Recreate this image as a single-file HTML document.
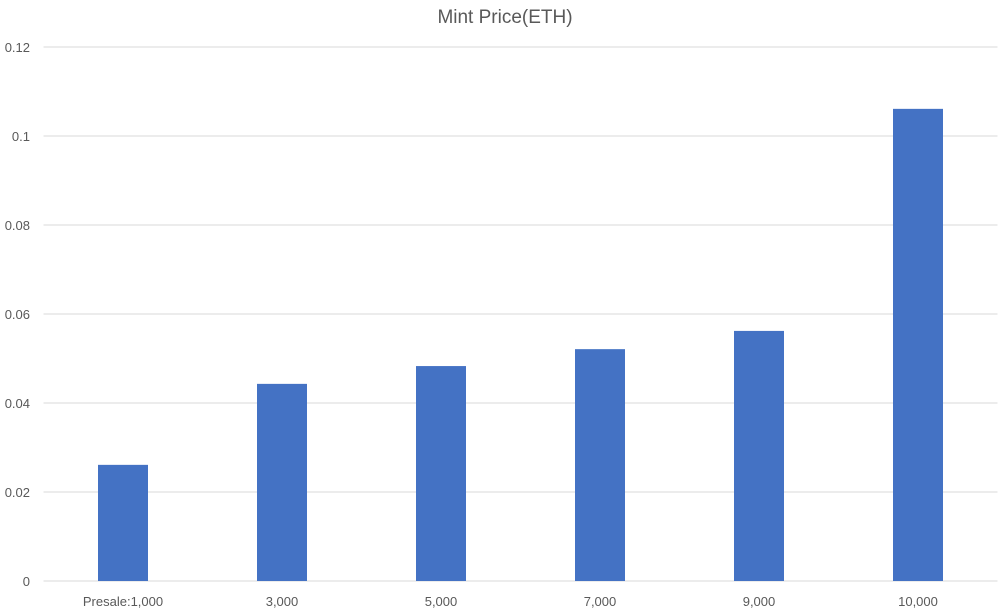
<!DOCTYPE html>
<html><head><meta charset="utf-8"><style>
body{margin:0;background:#fff;}
svg{font-family:"Liberation Sans",sans-serif;}
</style></head><body>
<svg width="1003" height="609" xmlns="http://www.w3.org/2000/svg">
<rect width="1003" height="609" fill="#fff"/>
<text x="505" y="23" text-anchor="middle" font-size="19" fill="#595959">Mint Price(ETH)</text>
<g id="grid"></g><g id="bars"></g><g id="labels"></g>
</svg>
<script>
const categories=["Presale:1,000","3,000","5,000","7,000","9,000","10,000"];
const values=[0.0261,0.0443,0.0483,0.0521,0.0562,0.1061];
const yTicks=[0,0.02,0.04,0.06,0.08,0.1,0.12];
const yTickLabels=["0","0.02","0.04","0.06","0.08","0.1","0.12"];
const ns="http://www.w3.org/2000/svg";
const left=43.5,right=997.5,y0=581,yTop=47,yMax=0.12;
const y=v=>y0-(v/yMax)*(y0-yTop);
const bw=(right-left)/categories.length;
const x=i=>left+bw*(i+0.5);
const grid=document.getElementById('grid'),bars=document.getElementById('bars'),labels=document.getElementById('labels');
function mk(t,a,p){const e=document.createElementNS(ns,t);for(const k in a)e.setAttribute(k,a[k]);p.appendChild(e);return e;}
yTicks.forEach((v,i)=>{
 const l=mk('line',{x1:left,x2:right,y1:y(v),y2:y(v),stroke:'#d9d9d9','stroke-width':1},grid);
 
 
 const t=mk('text',{x:30,y:y(v)+5,'text-anchor':'end','font-size':13,fill:'#595959'},labels);
 t.textContent=yTickLabels[i];
 
 
});
categories.forEach((c,i)=>{
 const r=mk('rect',{x:x(i)-25,y:y(values[i]),width:50,height:y0-y(values[i]),fill:'#4472C4'},bars);
 
 
 const t=mk('text',{x:x(i),y:606,'text-anchor':'middle','font-size':13,fill:'#595959'},labels);
 t.textContent=c;
 
 
});
</script>
</body></html>
